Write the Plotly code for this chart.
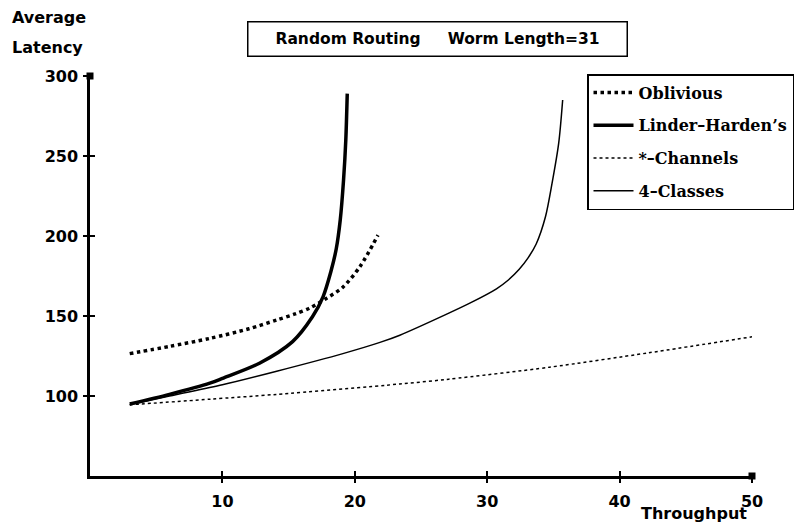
import plotly.graph_objects as go

# Data
oblivious_x = [3.0, 6.0, 9.05, 12.0, 14.1, 15.5, 16.6, 17.85, 19.1, 20.4, 21.75]
oblivious_y = [126.5, 131.0, 136.0, 142.0, 147.5, 151.3, 155.0, 161.0, 168.0, 181.0, 200.5]

linder_x = [3.0, 6.0, 9.05, 10.0, 12.8, 15.3, 16.8, 17.6, 18.2, 18.6, 18.9, 19.15, 19.32, 19.43]
linder_y = [95.0, 101.0, 108.0, 111.0, 120.5, 134.0, 149.5, 162.0, 178.0, 192.0, 210.0, 235.0, 260.0, 289.0]

channels_x = [3.0, 9.05, 14.1, 23.4, 27.1, 34.7, 42.2, 50.0]
channels_y = [94.5, 98.0, 101.0, 107.5, 110.5, 118.0, 127.0, 137.0]

classes_x = [3.0, 6.0, 10.0, 14.1, 19.1, 21.9, 23.4, 26.9, 28.8, 30.7, 31.6, 32.4, 33.1, 33.7, 34.4, 34.9, 35.4, 35.7]
classes_y = [94.5, 100.0, 107.0, 115.5, 126.5, 133.5, 138.0, 151.0, 158.5, 167.0, 172.5, 179.0, 186.5, 195.0, 212.0, 233.0, 258.0, 285.0]

x_ticks = [10, 20, 30, 40, 50]
y_ticks = [100, 150, 200, 250, 300]
x_range = [0, 50]
y_range = [50, 300]
axis_end_x = [0, 50]
axis_end_y = [300, 50]

labels = ["Oblivious", "Linder\u2013Harden\u2019s", "*\u2013Channels", "4\u2013Classes"]

SANS = "DejaVu Sans"
SERIF = "DejaVu Serif"

fig = go.Figure()
fig.add_trace(go.Scatter(x=oblivious_x, y=oblivious_y, mode="lines", name=labels[0],
                         line=dict(color="black", width=3.5, dash="dot", shape="spline", smoothing=0.8),
                         legendgroup="a"))
fig.add_trace(go.Scatter(x=linder_x, y=linder_y, mode="lines", name=labels[1],
                         line=dict(color="black", width=3.5, shape="spline", smoothing=0.8),
                         legendgroup="b"))
fig.add_trace(go.Scatter(x=channels_x, y=channels_y, mode="lines", name=labels[2],
                         line=dict(color="black", width=1.5, dash="3px,3px", shape="spline", smoothing=0.8),
                         legendgroup="c"))
fig.add_trace(go.Scatter(x=classes_x, y=classes_y, mode="lines", name=labels[3],
                         line=dict(color="black", width=1.5, shape="spline", smoothing=0.8),
                         legendgroup="d"))
# axis-end square markers
fig.add_trace(go.Scatter(x=axis_end_x, y=axis_end_y, mode="markers", showlegend=False,
                         marker=dict(symbol="square", size=7, color="black"),
                         cliponaxis=False, hoverinfo="skip"))
# dummy trace for overlay axes (inner tick marks)
fig.add_trace(go.Scatter(x=[None], y=[None], xaxis="x2", yaxis="y2", showlegend=False,
                         hoverinfo="skip"))

tickfont = dict(family=SANS, size=16, color="black", weight="bold")
fig.update_layout(
    width=805, height=523,
    margin=dict(l=90, r=52, t=76, b=47),
    paper_bgcolor="white", plot_bgcolor="white",
    xaxis=dict(range=x_range, tickvals=x_ticks, showgrid=False, zeroline=False,
               showline=True, linecolor="black", linewidth=2.5,
               ticks="outside", ticklen=4, tickwidth=1.5, tickcolor="black",
               tickfont=tickfont, ticklabelstandoff=5),
    yaxis=dict(range=y_range, tickvals=y_ticks, showgrid=False, zeroline=False,
               showline=True, linecolor="black", linewidth=2.5,
               ticks="outside", ticklen=4, tickwidth=1.5, tickcolor="black",
               tickfont=tickfont, ticklabelstandoff=2),
    xaxis2=dict(range=x_range, tickvals=x_ticks, overlaying="x", anchor="y2", side="bottom",
                showgrid=False, zeroline=False, showline=False, showticklabels=False,
                ticks="inside", ticklen=5, tickwidth=1.5, tickcolor="black"),
    yaxis2=dict(range=y_range, tickvals=y_ticks, overlaying="y", anchor="x2", side="left",
                showgrid=False, zeroline=False, showline=False, showticklabels=False,
                ticks="inside", ticklen=5, tickwidth=1.5, tickcolor="black"),
    legend=dict(x=(587 - 90) / 663, y=(476 - 74) / 400, xanchor="left", yanchor="top",
                bordercolor="black", borderwidth=1.5, bgcolor="white",
                font=dict(family=SERIF, size=16, color="black", weight="bold"),
                tracegroupgap=9, itemwidth=40),
    showlegend=True,
)

fig.add_annotation(x=(438 - 90) / 663, y=(476 - 39.5) / 400, xref="paper", yref="paper",
                   text="Random Routing&nbsp;&nbsp;&nbsp;&nbsp;&nbsp;Worm Length=31",
                   showarrow=False, font=dict(family=SANS, size=15.5, color="black", weight="bold"),
                   bordercolor="black", borderwidth=1.5, borderpad=0, bgcolor="white",
                   width=378, height=33, xanchor="center", yanchor="middle")
fig.add_annotation(x=(10 - 90) / 663, y=(476 - 17) / 400, xref="paper", yref="paper",
                   text="Average", showarrow=False, xanchor="left", yanchor="middle",
                   font=dict(family=SANS, size=16, color="black", weight="bold"))
fig.add_annotation(x=(10 - 90) / 663, y=(476 - 48) / 400, xref="paper", yref="paper",
                   text="Latency", showarrow=False, xanchor="left", yanchor="middle",
                   font=dict(family=SANS, size=16, color="black", weight="bold"))
fig.add_annotation(x=(695 - 90) / 663, y=(476 - 513) / 400, xref="paper", yref="paper",
                   text="Throughput", showarrow=False, xanchor="center", yanchor="middle",
                   font=dict(family=SANS, size=16, color="black", weight="bold"))

fig.write_html("out.html", config={"displayModeBar": False},
               post_script="document.body.style.margin='0px';")
